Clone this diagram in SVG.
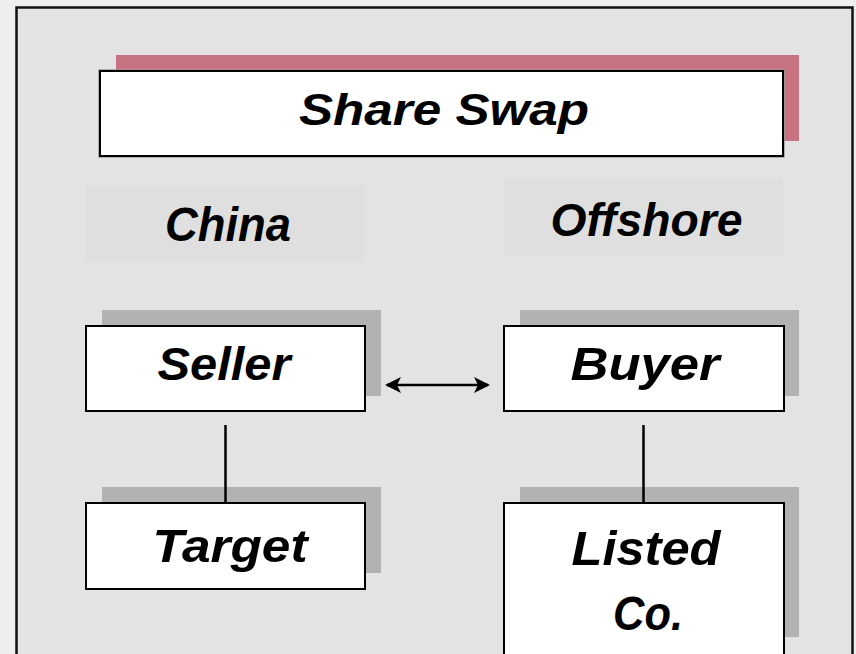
<svg xmlns="http://www.w3.org/2000/svg" width="856" height="654" viewBox="0 0 856 654">
  <defs>
    <style>
      .lbl { font-family: "Liberation Sans", Arial, sans-serif; font-weight: bold; font-style: italic; fill: #000; text-anchor: middle; }
      .box { fill: #ffffff; stroke: #000; stroke-width: 2; }
      .halo { fill: none; stroke: #9a9a9a; stroke-width: 3.5; }
      .shadow { fill: #b2b2b2; }
      .region { fill: #dfdfdf; }
      .conn { stroke: #000; stroke-width: 2.5; fill: none; }
    </style>
    <marker id="ah" viewBox="0 0 16 16" refX="14" refY="8" markerWidth="16" markerHeight="16" markerUnits="userSpaceOnUse" orient="auto-start-reverse">
      <path d="M0,0 L16,8 L0,16 L4,8 Z" fill="#000"/>
    </marker>
  </defs>

  <rect x="0" y="0" width="856" height="654" fill="#eeeeee"/>
  <rect x="16.5" y="7.5" width="836" height="660" fill="#e3e3e3" stroke="#111" stroke-width="2.5"/>

  <g id="title">
    <rect x="116" y="55" width="683" height="86" fill="#c77381"/>
    <rect class="halo" x="100" y="71" width="683" height="85"/>
    <rect class="box" x="100" y="71" width="683" height="85"/>
    <text class="lbl" x="444" y="125" font-size="44" textLength="290" lengthAdjust="spacingAndGlyphs">Share Swap</text>
  </g>

  <g id="china">
    <rect class="region" x="86" y="185" width="279" height="77"/>
    <text class="lbl" x="228" y="241" font-size="48" textLength="126" lengthAdjust="spacingAndGlyphs">China</text>
  </g>

  <g id="offshore">
    <rect class="region" x="504" y="179" width="279" height="77"/>
    <text class="lbl" x="646.5" y="236" font-size="46" textLength="192" lengthAdjust="spacingAndGlyphs">Offshore</text>
  </g>

  <g id="seller">
    <rect class="shadow" x="102" y="310" width="279" height="86"/>
    <rect class="box" x="86" y="326" width="279" height="85"/>
    <text class="lbl" x="224" y="380" font-size="46" textLength="133" lengthAdjust="spacingAndGlyphs">Seller</text>
  </g>

  <g id="buyer">
    <rect class="shadow" x="520" y="310" width="279" height="86"/>
    <rect class="box" x="504" y="326" width="280" height="85"/>
    <text class="lbl" x="645" y="380" font-size="46" textLength="149" lengthAdjust="spacingAndGlyphs">Buyer</text>
  </g>

  <g id="target">
    <rect class="shadow" x="102" y="487" width="279" height="86"/>
    <rect class="box" x="86" y="503" width="279" height="86"/>
    <text class="lbl" x="230" y="562" font-size="46" textLength="155" lengthAdjust="spacingAndGlyphs">Target</text>
  </g>

  <g id="listed">
    <rect class="shadow" x="520" y="487" width="279" height="150"/>
    <rect class="box" x="504" y="503" width="280" height="170"/>
    <text class="lbl" x="646" y="565" font-size="49" textLength="149" lengthAdjust="spacingAndGlyphs">Listed</text>
    <text class="lbl" x="648" y="630" font-size="49" textLength="70" lengthAdjust="spacingAndGlyphs">Co.</text>
  </g>

  <g id="connectors">
    <line class="conn" x1="387" y1="385" x2="488" y2="385" marker-start="url(#ah)" marker-end="url(#ah)"/>
    <line class="conn" x1="225.5" y1="425" x2="225.5" y2="503"/>
    <line class="conn" x1="643.5" y1="425" x2="643.5" y2="503"/>
  </g>
</svg>
